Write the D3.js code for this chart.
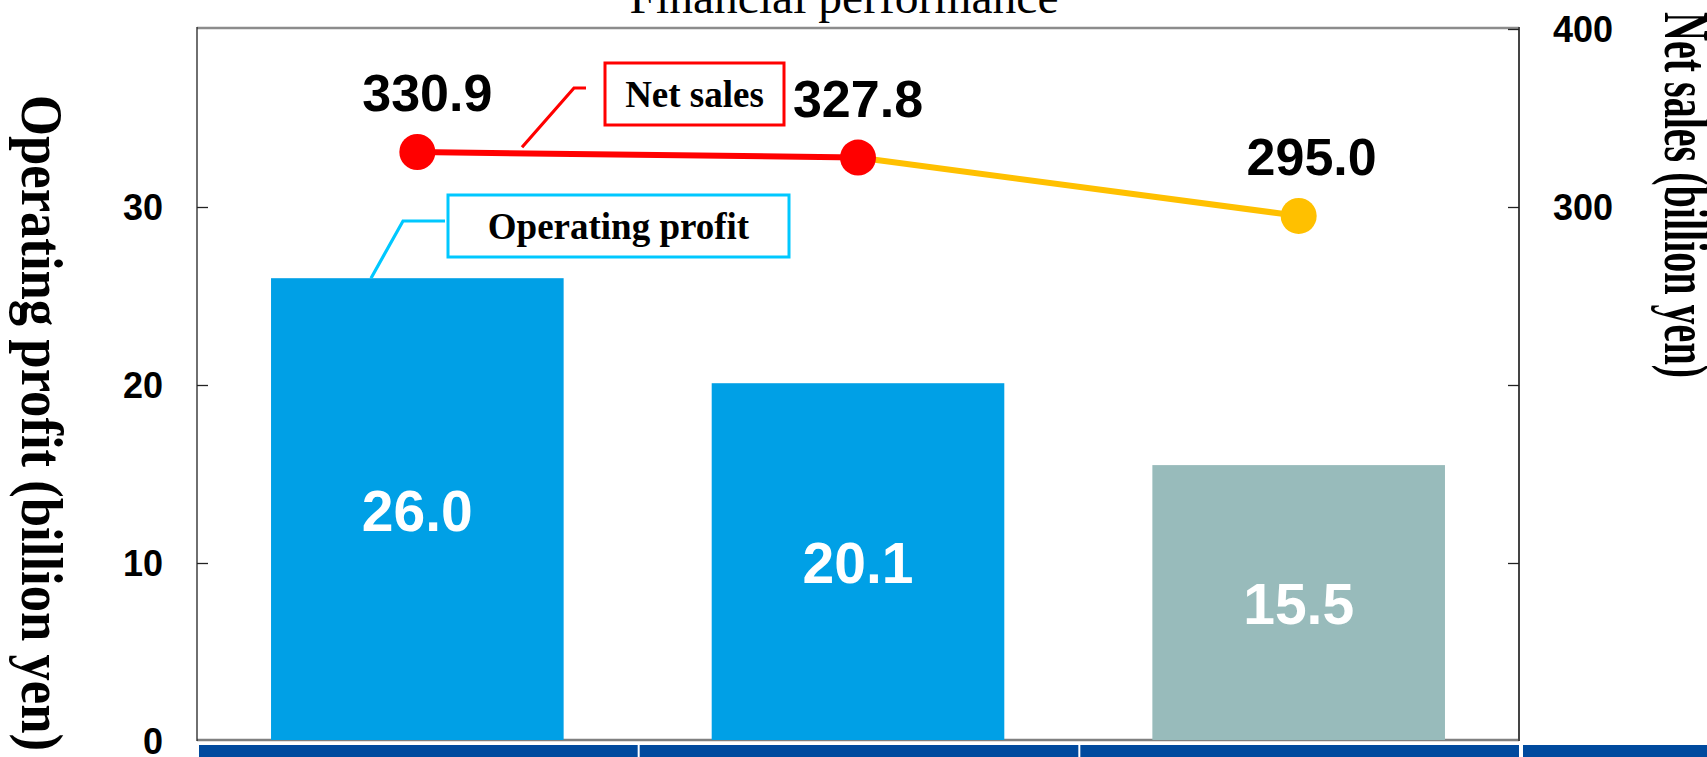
<!DOCTYPE html>
<html>
<head>
<meta charset="utf-8">
<script src="https://cdn.jsdelivr.net/npm/d3@7"></script>
<style>
  html, body { margin: 0; padding: 0; background: #fff; overflow: hidden; }
  svg { display: block; }
</style>
</head>
<body>
<svg id="chart" width="1707" height="757"></svg>
<script>
// data
const periods = ["FY2018", "FY2019", "FY2020 forecast"];
const operatingProfit = [26.0, 20.1, 15.5];
const netSales = [330.9, 327.8, 295.0];
const leftTicks = [0, 10, 20, 30];
const rightTicks = [100, 200, 300, 400];
const rightTickLabels = [300, 400];

// small manual nudges of the sales labels, as in the original slide
const salesLabelNudge = [10, 0, 13];

function drawChart() {
  let svg = d3.select("#chart"),
    width = +svg.attr("width"),
    margin = { top: 29, right: 188, bottom: 16, left: 197 },
    height = +svg.attr("height"),
    x0 = margin.left,
    x1 = width - margin.right,
    y0 = height - margin.bottom,
    y1 = margin.top;

  const numFont = "'Liberation Sans', Arial, sans-serif";
  const serif = "'Liberation Serif', 'Times New Roman', serif";

  let x = d3.scaleBand()
    .domain(periods)
    .range([x0, x1])
    .paddingInner(0.336)
    .paddingOuter(0.168);
  let yLeft = d3.scaleLinear().domain([0, 40]).range([y0, y1]);
  let yRight = d3.scaleLinear().domain([0, 400]).range([y0, y1]);

  // category header boxes (cut off by the bottom edge)
  let edges = periods.map((p) => x(p) - x.step() * x.paddingOuter());
  svg.append("g")
    .selectAll("rect")
    .data(edges)
    .enter().append("rect")
    .attr("x", (d) => d + 2)
    .attr("y", y0 + 4)
    .attr("width", x.step() - 2)
    .attr("height", 30)
    .attr("fill", "#004a9e");
  svg.append("rect")
    .attr("x", x1 + 4)
    .attr("y", y0 + 4)
    .attr("width", width - x1)
    .attr("height", 30)
    .attr("fill", "#004a9e");

  // frame
  svg.append("line").attr("x1", x0).attr("x2", x1).attr("y1", y1 - 1).attr("y2", y1 - 1)
    .attr("stroke", "#8c8c8c").attr("stroke-width", 2.5);
  svg.append("line").attr("x1", x0).attr("x2", x1).attr("y1", y0 - 1).attr("y2", y0 - 1)
    .attr("stroke", "#808080").attr("stroke-width", 2.5);
  svg.append("line").attr("x1", x0).attr("x2", x0).attr("y1", y1 - 2).attr("y2", y0)
    .attr("stroke", "#222").attr("stroke-width", 1.3);
  svg.append("line").attr("x1", x1).attr("x2", x1).attr("y1", y1 - 2).attr("y2", y0)
    .attr("stroke", "#444").attr("stroke-width", 2);

  // axes
  let leftAxis = svg.append("g")
    .attr("transform", "translate(" + x0 + ",0)")
    .call(d3.axisLeft(yLeft).tickValues(leftTicks).tickSizeInner(-11).tickSizeOuter(0).tickPadding(34));
  let rightAxis = svg.append("g")
    .attr("transform", "translate(" + x1 + ",0)")
    .call(d3.axisRight(yRight).tickValues(rightTicks).tickSizeInner(-11).tickSizeOuter(0).tickPadding(34)
      .tickFormat((d) => rightTickLabels.includes(d) ? d : ""));
  [leftAxis, rightAxis].forEach((a) => {
    a.select(".domain").remove();
    a.selectAll("line").attr("stroke", "#222").attr("stroke-width", 1.3);
    a.selectAll("text")
      .attr("font-family", numFont)
      .attr("font-weight", "bold")
      .attr("font-size", 36)
      .attr("fill", "#000")
      .attr("dy", "0.36em");
  });
  leftAxis.selectAll(".tick").filter((d) => d === 0).select("line").remove();

  // bars
  let barColor = (d, i) => i === periods.length - 1 ? "#98bbbb" : "#00a0e6";
  svg.append("g")
    .selectAll("rect")
    .data(operatingProfit)
    .enter().append("rect")
    .attr("x", (d, i) => x(periods[i]))
    .attr("y", (d) => yLeft(d))
    .attr("width", x.bandwidth())
    .attr("height", (d) => yLeft(0) - yLeft(d) - 1)
    .attr("fill", barColor);

  svg.append("g")
    .selectAll("text")
    .data(operatingProfit)
    .enter().append("text")
    .attr("x", (d, i) => x(periods[i]) + x.bandwidth() / 2)
    .attr("y", (d) => (yLeft(d) + yLeft(0)) / 2)
    .attr("dy", "0.37em")
    .attr("text-anchor", "middle")
    .attr("font-family", numFont)
    .attr("font-weight", "bold")
    .attr("font-size", 57)
    .attr("fill", "#fff")
    .text((d) => d.toFixed(1));

  // net sales line: actual in red, forecast segment in amber
  let cx = (i) => x(periods[i]) + x.bandwidth() / 2;
  let pts = netSales.map((v, i) => [cx(i), yRight(v)]);
  let segColor = (i) => i === netSales.length - 2 ? "#ffc000" : "#ff0000";
  svg.append("g")
    .selectAll("line")
    .data(d3.pairs(pts))
    .enter().append("line")
    .attr("x1", (d) => d[0][0])
    .attr("y1", (d) => d[0][1])
    .attr("x2", (d) => d[1][0])
    .attr("y2", (d) => d[1][1])
    .attr("stroke", (d, i) => segColor(i))
    .attr("stroke-width", 6);
  svg.append("g")
    .selectAll("circle")
    .data(pts)
    .enter().append("circle")
    .attr("cx", (d) => d[0])
    .attr("cy", (d) => d[1])
    .attr("r", 18)
    .attr("fill", (d, i) => i === pts.length - 1 ? "#ffc000" : "#ff0000");

  svg.append("g")
    .selectAll("text")
    .data(netSales)
    .enter().append("text")
    .attr("x", (d, i) => cx(i) + salesLabelNudge[i])
    .attr("y", (d) => yRight(d) - 41)
    .attr("text-anchor", "middle")
    .attr("font-family", numFont)
    .attr("font-weight", "bold")
    .attr("font-size", 52)
    .attr("fill", "#000")
    .text((d) => d.toFixed(1));

  // callouts
  function callout(path, box, label, color) {
    svg.append("path")
      .attr("d", d3.line()(path))
      .attr("fill", "none")
      .attr("stroke", color)
      .attr("stroke-width", 3.2);
    svg.append("rect")
      .attr("x", box[0]).attr("y", box[1])
      .attr("width", box[2]).attr("height", box[3])
      .attr("fill", "#fff")
      .attr("stroke", color)
      .attr("stroke-width", 3);
    svg.append("text")
      .attr("x", box[0] + box[2] / 2)
      .attr("y", box[1] + box[3] / 2)
      .attr("dy", "0.35em")
      .attr("text-anchor", "middle")
      .attr("font-family", serif)
      .attr("font-weight", "bold")
      .attr("font-size", 37)
      .attr("fill", "#000")
      .text(label);
  }
  let lineY = yRight(netSales[0]) + (yRight(netSales[1]) - yRight(netSales[0])) * (522 - pts[0][0]) / (pts[1][0] - pts[0][0]);
  callout([[522, lineY - 6], [574, 88], [586, 88]], [605, 63, 179, 62], "Net sales", "#ff0000");
  callout([[371, yLeft(operatingProfit[0])], [403, 221], [445, 221]], [448, 195, 341, 62], "Operating profit", "#00c8ff");

  // titles
  svg.append("text")
    .attr("x", 844)
    .attr("y", 13)
    .attr("text-anchor", "middle")
    .attr("font-family", serif)
    .attr("font-size", 46)
    .attr("textLength", 429)
    .attr("lengthAdjust", "spacingAndGlyphs")
    .attr("fill", "#000")
    .text("Financial performance");

  svg.append("text")
    .attr("transform", "translate(22,95) rotate(90)")
    .attr("font-family", serif)
    .attr("font-weight", "bold")
    .attr("font-size", 59)
    .attr("textLength", 656)
    .attr("lengthAdjust", "spacingAndGlyphs")
    .attr("fill", "#000")
    .text("Operating profit (billion yen)");

  svg.append("text")
    .attr("transform", "translate(1665,12) rotate(90)")
    .attr("font-family", serif)
    .attr("font-weight", "bold")
    .attr("font-size", 64)
    .attr("textLength", 366)
    .attr("lengthAdjust", "spacingAndGlyphs")
    .attr("fill", "#000")
    .text("Net sales (billion yen)");
}

drawChart();
</script>
</body>
</html>
